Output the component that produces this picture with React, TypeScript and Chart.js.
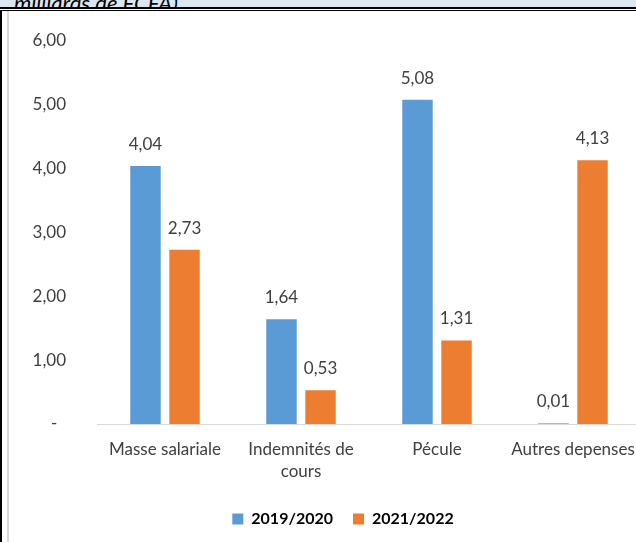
import React, { useEffect, useRef } from 'react';
import { Chart, registerables } from 'chart.js';

Chart.register(...registerables);

const categories: (string | string[])[] = ['Masse salariale', ['Indemnités de', 'cours'], 'Pécule', 'Autres depenses'];
const seriesNames = ['2019/2020', '2021/2022'];
const values2019 = [4.04, 1.64, 5.08, 0.01];
const values2021 = [2.73, 0.53, 1.31, 4.13];
const yTickLabels = ['-', '1,00', '2,00', '3,00', '4,00', '5,00', '6,00'];
const seriesColors = ['#5B9BD5', '#ED7D31'];

const FONT = 'Lato, "Open Sans", sans-serif';

const valueLabels = {
  id: 'valueLabels',
  afterDatasetsDraw(chart: any) {
    const ctx = chart.ctx;
    ctx.save();
    ctx.font = `17px ${FONT}`;
    ctx.fillStyle = '#404040';
    ctx.textAlign = 'center';
    ctx.textBaseline = 'alphabetic';
    chart.data.datasets.forEach((ds: any, di: number) => {
      const meta = chart.getDatasetMeta(di);
      meta.data.forEach((el: any, i: number) => {
        const v = ds.data[i] as number;
        ctx.fillText(v.toFixed(2).replace('.', ','), el.x, el.y - 16);
      });
    });
    ctx.restore();
  },
};

export default function App() {
  const ref = useRef<HTMLCanvasElement | null>(null);

  useEffect(() => {
    if (!ref.current) return;
    const chart = new Chart(ref.current, {
      type: 'bar',
      data: {
        labels: categories as any,
        datasets: [
          {
            label: seriesNames[0],
            data: values2019,
            backgroundColor: seriesColors[0],
            categoryPercentage: 0.574,
            barPercentage: 0.78,
          },
          {
            label: seriesNames[1],
            data: values2021,
            backgroundColor: seriesColors[1],
            categoryPercentage: 0.574,
            barPercentage: 0.78,
          },
        ],
      },
      options: {
        animation: false,
        responsive: false,
        maintainAspectRatio: false,
        devicePixelRatio: 1,
        layout: { padding: { top: 30, bottom: 5, left: 0, right: 0 } },
        plugins: {
          legend: {
            position: 'bottom',
            labels: {
              boxWidth: 11,
              boxHeight: 11,
              padding: 20,
              color: '#000000',
              font: { family: FONT, size: 16, weight: 'bold' },
            },
          },
          tooltip: { enabled: false },
        },
        scales: {
          x: {
            grid: { display: false, drawTicks: false },
            border: { display: true, color: '#d9d9d9', width: 1 },
            ticks: {
              color: '#404040',
              padding: 14,
              maxRotation: 0,
              autoSkip: false,
              font: { family: FONT, size: 17, lineHeight: 1.3 },
            },
            afterFit: (s: any) => {
              s.height = 67;
              s.paddingLeft = 0;
              s.paddingRight = 0;
            },
          },
          y: {
            min: 0,
            max: 6,
            grid: { display: false, drawTicks: false },
            border: { display: false },
            ticks: {
              stepSize: 1,
              padding: 31,
              color: '#404040',
              font: { family: FONT, size: 17 },
              callback: (v: any) => {
                const i = Math.round(Number(v));
                return i === 0 ? yTickLabels[0] + '\u00a0\u00a0' : yTickLabels[i];
              },
            },
            afterFit: (s: any) => {
              s.width = 88;
              s.paddingTop = 0;
              s.paddingBottom = 0;
            },
          },
          y2: {
            type: 'linear',
            position: 'right',
            display: true,
            grid: { display: false, drawTicks: false },
            border: { display: false },
            ticks: { display: false },
            afterFit: (s: any) => {
              s.width = 36;
              s.paddingTop = 0;
              s.paddingBottom = 0;
            },
          },
        },
      } as any,
      plugins: [valueLabels],
    });
    return () => chart.destroy();
  }, []);

  return (
    <div
      style={{
        position: 'fixed',
        left: 0,
        top: 0,
        width: 636,
        height: 542,
        overflow: 'hidden',
        background: '#ffffff',
      }}
    >
      <div
        style={{
          position: 'absolute',
          left: 0,
          top: 0,
          width: 636,
          height: 7,
          background: '#dce6f1',
          overflow: 'hidden',
        }}
      >
        <span
          style={{
            position: 'absolute',
            left: 14,
            top: -11,
            fontFamily: FONT,
            fontStyle: 'italic',
            fontSize: 22,
            lineHeight: 'normal',
            color: '#000000',
            whiteSpace: 'nowrap',
          }}
        >
          milliards de FCFA)
        </span>
      </div>
      <div style={{ position: 'absolute', left: 0, top: 7, width: 636, height: 2, background: '#000000' }} />
      <div style={{ position: 'absolute', left: 0, top: 10, width: 636, height: 1, background: '#000000' }} />
      <div style={{ position: 'absolute', left: 0, top: 10, width: 2, height: 532, background: '#000000' }} />
      <div style={{ position: 'absolute', left: 7, top: 11, width: 2, height: 531, background: '#d9d9d9' }} />
      <canvas
        ref={ref}
        width={668}
        height={531}
        style={{ position: 'absolute', left: 9, top: 11, width: 668, height: 531 }}
      />
    </div>
  );
}
